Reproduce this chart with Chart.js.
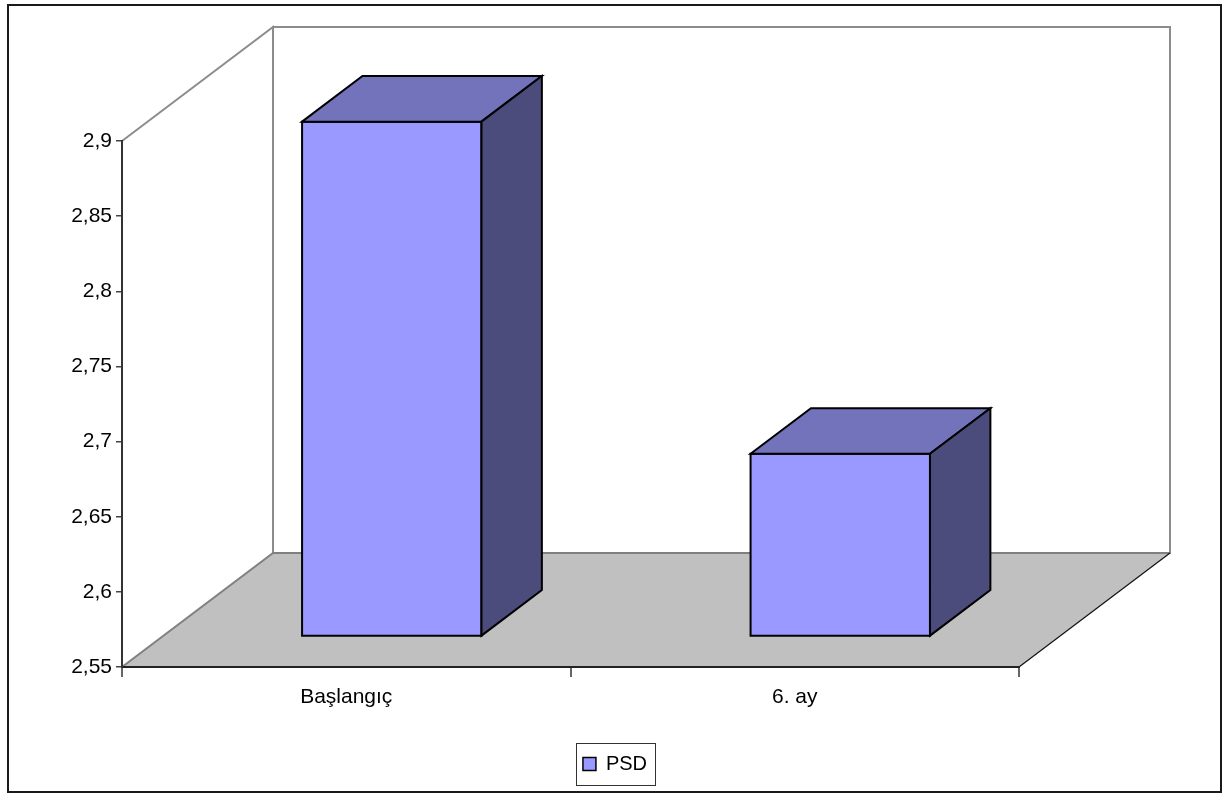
<!DOCTYPE html>
<html>
<head>
<meta charset="utf-8">
<title>PSD</title>
<script src="https://cdn.jsdelivr.net/npm/chart.js@4.4.1/dist/chart.umd.min.js"></script>
<style>
  html, body { margin: 0; padding: 0; background: #ffffff; }
  #wrap { width: 1222px; height: 794px; }
</style>
</head>
<body>
<div id="wrap"><canvas id="c" width="1222" height="794"></canvas></div>
<script>
// Categories and the single series
const categories = ['Başlangıç', '6. ay'];
const seriesName = 'PSD';
const psdValues = [2.892, 2.671];

// Value axis range and step
const yMin = 2.55;
const yMax = 2.9;
const yStep = 0.05;

const FONT = "'Liberation Sans', Arial, sans-serif";

// Pseudo-3D look: depth of the box behind the front plane
const DEPTH = { x: 151, y: -114 };
const BAR_FRONT = 0.275;   // fraction of depth where the bar front face sits
const BAR_BACK = 0.675;    // fraction of depth where the bar back face sits
const BAR_NUDGE = 4;

const formatTick = v => {
  let s = v.toFixed(2);
  if (s.endsWith('0')) s = s.slice(0, -1);
  return s.replace('.', ',');
};

function poly(ctx, pts, fill, stroke, lw) {
  ctx.beginPath();
  ctx.moveTo(pts[0][0], pts[0][1]);
  for (let i = 1; i < pts.length; i++) ctx.lineTo(pts[i][0], pts[i][1]);
  ctx.closePath();
  if (fill) { ctx.fillStyle = fill; ctx.fill(); }
  if (stroke) { ctx.strokeStyle = stroke; ctx.lineWidth = lw; ctx.lineJoin = 'miter'; ctx.stroke(); }
}

const box3d = {
  id: 'box3d',
  beforeDraw(chart) {
    const { ctx, chartArea: a } = chart;
    const dx = DEPTH.x, dy = DEPTH.y;
    ctx.save();
    // back wall
    poly(ctx, [[a.left + dx, a.top + dy], [a.right + dx, a.top + dy],
               [a.right + dx, a.bottom + dy], [a.left + dx, a.bottom + dy]],
         '#ffffff', '#8c8c8c', 2);
    // left wall
    poly(ctx, [[a.left, a.top], [a.left + dx, a.top + dy],
               [a.left + dx, a.bottom + dy], [a.left, a.bottom]],
         '#ffffff', null, 0);
    ctx.strokeStyle = '#8c8c8c';
    ctx.lineWidth = 2;
    ctx.beginPath();
    ctx.moveTo(a.left, a.top); ctx.lineTo(a.left + dx, a.top + dy);
    ctx.lineTo(a.left + dx, a.bottom + dy);
    ctx.stroke();
    // floor
    poly(ctx, [[a.left, a.bottom], [a.left + dx, a.bottom + dy],
               [a.right + dx, a.bottom + dy], [a.right, a.bottom]],
         '#c0c0c0', null, 0);
    ctx.lineWidth = 2;
    ctx.strokeStyle = '#808080';
    ctx.beginPath();
    ctx.moveTo(a.left, a.bottom); ctx.lineTo(a.left + dx, a.bottom + dy);
    ctx.lineTo(a.right + dx, a.bottom + dy);
    ctx.stroke();
    ctx.lineWidth = 1.2;
    ctx.strokeStyle = '#111111';
    ctx.beginPath();
    ctx.moveTo(a.right + dx, a.bottom + dy); ctx.lineTo(a.right, a.bottom);
    ctx.stroke();
    ctx.restore();
  },
  beforeDatasetsDraw(chart) {
    const { ctx } = chart;
    const yScale = chart.scales.y;
    const floorPx = yScale.getPixelForValue(yScale.min);
    const meta = chart.getDatasetMeta(0);
    const fx = BAR_FRONT * DEPTH.x + BAR_NUDGE, fy = BAR_FRONT * DEPTH.y;
    const bx = (BAR_BACK - BAR_FRONT) * DEPTH.x, by = (BAR_BACK - BAR_FRONT) * DEPTH.y;
    ctx.save();
    meta.data.forEach(el => {
      const p = el.getProps(['x', 'y', 'base', 'width'], true);
      const base = Math.min(p.base, floorPx);
      const xL = p.x - p.width / 2 + fx, xR = xL + p.width;
      const yT = p.y + fy, yB = base + fy;
      // front
      poly(ctx, [[xL, yT], [xR, yT], [xR, yB], [xL, yB]], '#9999ff', '#000000', 2);
      // top
      poly(ctx, [[xL, yT], [xL + bx, yT + by], [xR + bx, yT + by], [xR, yT]], '#7373bb', '#000000', 2);
      // side
      poly(ctx, [[xR, yT], [xR + bx, yT + by], [xR + bx, yB + by], [xR, yB]], '#4b4b7c', '#000000', 2);
    });
    ctx.restore();
    return false;
  },
  afterDraw(chart) {
    const { ctx } = chart;
    ctx.save();
    // legend frame
    const lg = chart.legend;
    if (lg && lg.legendHitBoxes && lg.legendHitBoxes.length) {
      const hb = lg.legendHitBoxes[0];
      const cy = hb.top + hb.height / 2;
      ctx.strokeStyle = '#333333';
      ctx.lineWidth = 1;
      ctx.strokeRect(Math.round(hb.left - 7) + 0.5, Math.round(cy - 21) + 0.5,
                     Math.round(hb.width + 15), 42);
    }
    // outer frame
    ctx.strokeStyle = '#1a1a1a';
    ctx.lineWidth = 2;
    ctx.strokeRect(8, 5, 1213, 787);
    ctx.restore();
  }
};

new Chart(document.getElementById('c'), {
  type: 'bar',
  data: {
    labels: categories,
    datasets: [{
      label: seriesName,
      data: psdValues,
      backgroundColor: '#9999ff',
      borderColor: '#000000',
      borderWidth: 1.5,
      categoryPercentage: 0.8,
      barPercentage: 0.5
    }]
  },
  plugins: [box3d],
  options: {
    responsive: false,
    animation: false,
    events: [],
    layout: { padding: { left: 8, right: 0, top: 141, bottom: 10 } },
    scales: {
      x: {
        grid: { offset: true, drawOnChartArea: false, drawTicks: true, tickLength: 10,
                tickColor: '#666666', lineWidth: 2 },
        border: { display: true, color: '#222222', width: 2 },
        ticks: { color: '#000000', padding: 8, font: { family: FONT, size: 21 } },
        afterFit(s) { s.height = 77; }
      },
      y: {
        min: yMin,
        max: yMax,
        grid: { drawOnChartArea: false, drawTicks: true, tickLength: 6,
                tickColor: '#444444', lineWidth: 1.5 },
        border: { display: true, color: '#333333', width: 2 },
        ticks: { stepSize: yStep, color: '#000000', padding: 4,
                 font: { family: FONT, size: 21 }, callback: v => formatTick(v) },
        afterFit(s) { s.width = 114; }
      },
      side: {
        position: 'right',
        display: true,
        grid: { display: false },
        border: { display: false },
        ticks: { display: false },
        afterFit(s) { s.width = 203; }
      }
    },
    plugins: {
      tooltip: { enabled: false },
      legend: {
        display: true,
        position: 'bottom',
        labels: { boxWidth: 13, boxHeight: 13, padding: 10, color: '#000000',
                  font: { family: FONT, size: 20 } }
      }
    }
  }
});
</script>
</body>
</html>
